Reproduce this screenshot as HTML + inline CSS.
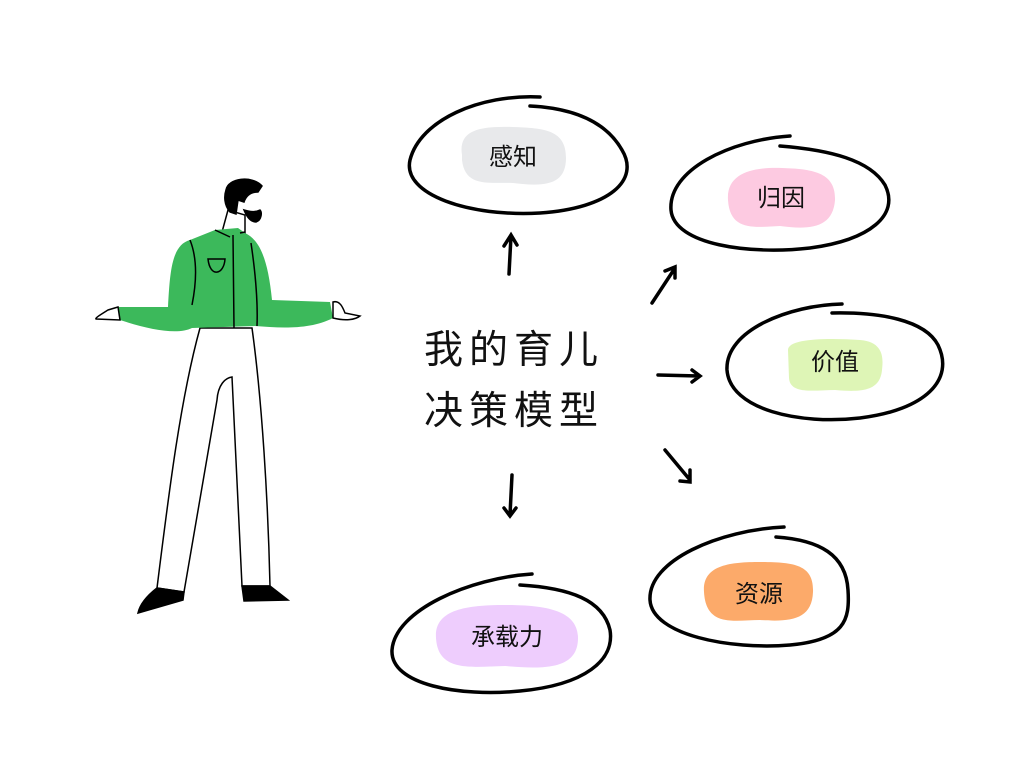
<!DOCTYPE html>
<html><head><meta charset="utf-8"><style>
html,body{margin:0;padding:0;background:#fff;width:1024px;height:768px;overflow:hidden}
svg text{font-family:"Liberation Sans","Noto Sans CJK SC",sans-serif}
</style></head><body>
<svg width="1024" height="768" viewBox="0 0 1024 768" xmlns="http://www.w3.org/2000/svg">
<g fill="none" stroke="#000" stroke-width="3.5" stroke-linecap="round">
<!-- 感知 -->
<path d="M540 97 C480 94 420 120 410 160 C402 195 470 217 540 213 C610 208 640 180 622 150 C605 120 570 108 530 106"/>
<!-- 归因 -->
<path d="M790 136 C730 140 668 170 671 210 C674 245 750 255 810 248 C870 240 900 215 885 185 C870 160 830 150 780 146"/>
<!-- 价值 -->
<path d="M842 304 C790 305 725 330 727 370 C730 410 800 425 860 418 C925 410 955 380 938 345 C925 320 880 312 832 313"/>
<!-- 资源 -->
<path d="M784 527 C720 530 648 560 650 600 C652 635 730 650 790 645 C845 640 850 620 848 590 C846 555 820 540 776 537"/>
<!-- 承载力 -->
<path d="M532 574 C470 578 395 610 392 650 C390 685 460 697 520 691 C585 685 615 660 610 630 C603 600 570 588 520 585"/>
<!-- arrows -->
<path d="M509 274 L511 236 M504 246 L511 235 L517 245"/>
<path d="M652 303 L675 268 M665 271 L675 267 L675 278"/>
<path d="M658 375 L699 376 M692 370 L700 376 L692 382"/>
<path d="M665 450 L690 480 M690 470 L690 482 L680 481"/>
<path d="M512 475 L510 515 M504 508 L510 516 L516 508"/>
</g>
<!-- blobs -->
<path d="M462 155 C458 130 480 126 512 127 C545 128 566 130 566 158 C566 185 545 187 513 183 C490 182 465 188 462 160Z" fill="#e8e9eb"/>
<path d="M728 200 C726 172 755 167 782 168 C812 169 836 172 835 200 C833 228 810 230 780 226 C755 227 730 232 728 200Z" fill="#fdcae1"/>
<path d="M788 350 C788 338 830 338 860 340 C885 342 883 360 882 370 C880 392 860 392 835 390 C815 390 790 395 789 378Z" fill="#def5b6"/>
<path d="M704 592 C702 565 730 562 760 562 C795 562 814 565 813 592 C812 620 790 622 760 620 C735 620 706 628 704 592Z" fill="#fcaa6a"/>
<path d="M436 638 C434 610 465 605 505 605 C545 605 578 610 578 638 C578 668 548 670 505 666 C470 667 438 672 436 638Z" fill="#eecdfd"/>
<g font-size="24" fill="#111" text-anchor="middle">
<text x="513" y="165">感知</text>
<text x="781" y="206">归因</text>
<text x="835" y="370">价值</text>
<text x="759" y="602">资源</text>
<text x="507" y="645">承载力</text>
</g>
<g font-size="39" fill="#111" letter-spacing="6">
<text x="424" y="363">我的育儿</text>
<text x="424" y="424">决策模型</text>
</g>
<!-- figure -->
<g stroke="#000" stroke-width="1.5">
<path d="M200 328 C180 400 168 500 157 588 L184 592 L217 400 C218 385 225 378 232 377 L242 586 L270 586 C268 500 262 400 252 328Z" fill="#fff"/>
<path d="M157 588 L184 592 L183 600 L138 613 C140 604 148 595 157 588Z" fill="#000"/>
<path d="M242 586 L270 586 L288 600 L244 601Z" fill="#000"/>
<path d="M228 210 L222 232 L245 233 L245 215Z" fill="#fff"/>
<path d="M215 230 L238 228 L245 233 C260 240 268 260 272 300 L330 302 L333 318 C310 330 280 328 255 326 L192 328 C178 335 150 330 120 320 L118 307 L168 307 C170 270 172 245 190 240Z" fill="#3cb95b" stroke="none"/>
<path d="M190 240 C198 260 196 285 192 305 M233 235 L234 328 M251 243 C255 270 258 300 257 326 M208 259 L225 259 C224 275 210 278 208 259Z M215 230 L230 237 M240 233 L245 232" fill="none"/>
<path d="M118 307 L108 310 C100 315 95 318 96 319 L120 320Z" fill="#fff"/>
<path d="M333 302 C340 300 343 308 345 313 L360 316 C355 320 345 321 333 318Z" fill="#fff"/>
<path d="M234 184 C248 178 262 184 262 192 L260 205 L250 212 L244 210 L238 198 L232 200Z" fill="#fff" stroke="none"/>
<path d="M226 190 C228 178 252 175 262 186 L258 192 C250 192 246 196 244 202 L238 200 L236 214 L230 212 C224 205 224 196 226 190Z" fill="#000"/>
<path d="M244 210 C246 215 250 222 256 222 C262 220 262 212 260 210 C256 212 250 212 244 210Z" fill="#000"/>
</g>
</svg>
</body></html>
